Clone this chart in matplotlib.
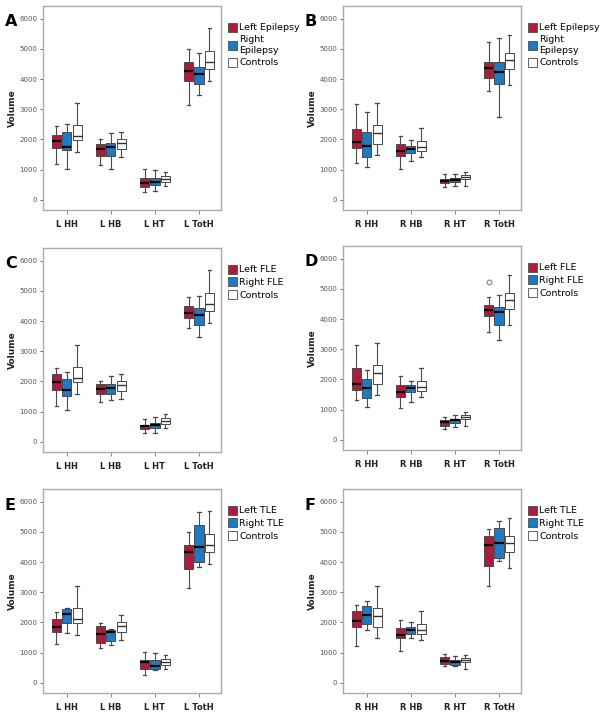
import matplotlib
matplotlib.use('Agg')
import matplotlib.pyplot as plt
from matplotlib.patches import Patch

# each row: [whisker low, Q1, median, Q3, whisker high] per region
l_regions = ['L HH', 'L HB', 'L HT', 'L TotH']
r_regions = ['R HH', 'R HB', 'R HT', 'R TotH']

l_controls = [[1580, 1980, 2100, 2480, 3190], [1410, 1670, 1890, 2020, 2240],
              [440, 600, 680, 780, 910], [3930, 4330, 4560, 4940, 5680]]
r_controls = [[1470, 1860, 2210, 2470, 3190], [1430, 1630, 1760, 1940, 2390],
              [460, 680, 740, 810, 920], [3810, 4330, 4640, 4860, 5450]]

A_left = [[1190, 1700, 1940, 2140, 2460], [1140, 1440, 1690, 1860, 2000],
          [260, 430, 570, 710, 1020], [3140, 3930, 4270, 4570, 5010]]
A_right = [[1030, 1660, 1760, 2230, 2520], [1030, 1450, 1760, 1880, 2200],
           [290, 490, 600, 710, 990], [3480, 3850, 4180, 4400, 4860]]

B_left = [[1210, 1710, 1910, 2360, 3170], [1030, 1450, 1610, 1860, 2110],
          [430, 560, 630, 680, 840], [3590, 4030, 4370, 4560, 5220]]
B_right = [[1090, 1430, 1780, 2240, 2910], [1280, 1560, 1690, 1780, 1990],
           [460, 580, 670, 730, 850], [2730, 3850, 4240, 4580, 5370]]

C_left = [[1200, 1720, 1970, 2250, 2450], [1310, 1570, 1740, 1900, 2000],
          [280, 430, 510, 570, 740], [3780, 4090, 4250, 4510, 4790]]
C_right = [[1040, 1500, 1730, 2090, 2310], [1390, 1590, 1790, 1920, 2190],
           [300, 450, 560, 620, 830], [3480, 3860, 4210, 4420, 4820]]

D_left = [[1310, 1640, 1860, 2380, 3150], [1040, 1430, 1590, 1820, 2120],
          [350, 460, 600, 660, 770], [3580, 4100, 4300, 4450, 4730]]
D_right = [[1090, 1380, 1720, 2020, 2310], [1260, 1570, 1710, 1810, 1930],
           [430, 550, 640, 700, 820], [3300, 3790, 4230, 4410, 4810]]
D_left_outlier = 5220  # R TotH, Left FLE

E_left = [[1280, 1670, 1860, 2110, 2330], [1140, 1320, 1610, 1890, 1970],
          [240, 450, 700, 760, 1020], [3140, 3760, 4330, 4570, 4990]]
E_right = [[1660, 1970, 2290, 2450, 2470], [1260, 1390, 1670, 1760, 1790],
           [410, 460, 570, 760, 980], [3820, 4000, 4500, 5240, 5670]]

F_left = [[1210, 1860, 2040, 2370, 2580], [1050, 1470, 1570, 1800, 2080],
          [540, 630, 710, 850, 960], [3190, 3880, 4550, 4850, 5100]]
F_right = [[1750, 1930, 2230, 2530, 2710], [1490, 1600, 1750, 1850, 2020],
           [550, 580, 680, 760, 880], [4040, 4150, 4630, 5140, 5360]]

red = '#AD1B3D'
blue = '#1F7AC6'
edge = '#4a4a4a'

W, H = 604, 714
fig = plt.figure(figsize=(W / 100, H / 100), dpi=100)

def stats(rows, fliers=None):
    out = []
    for i, r in enumerate(rows):
        d = dict(whislo=r[0], q1=r[1], med=r[2], q3=r[3], whishi=r[4], fliers=[])
        if fliers and i in fliers:
            d['fliers'] = [fliers[i]]
        out.append(d)
    return out

def panel(x0, y0, letter, regions, left, right, ctrl, labels, out=None):
    ax = fig.add_axes([x0 / W, 1 - (y0 + 204) / H, 178 / W, 204 / H])
    groups = [(left, red, 'black', 1.6, out), (right, blue, 'black', 1.6, None),
              (ctrl, 'white', '#333333', 1.0, None)]
    for k, (rows, fc, mc, mw, fl) in enumerate(groups):
        pos = [i + 1 + (k - 1) * 0.235 for i in range(len(rows))]
        ax.bxp(stats(rows, fl), positions=pos, widths=0.21, patch_artist=True,
               showfliers=True, manage_ticks=False,
               boxprops=dict(facecolor=fc, edgecolor=edge, linewidth=0.7),
               whiskerprops=dict(color=edge, linewidth=0.8),
               capprops=dict(color=edge, linewidth=0.9),
               medianprops=dict(color=mc, linewidth=mw),
               flierprops=dict(marker='o', markersize=3.5, markerfacecolor='none',
                               markeredgecolor='#777777', markeredgewidth=0.7),
               capwidths=0.08)
    ax.set_xlim(0.46, 4.5)
    ax.set_ylim(-340, 6420)
    ax.set_xticks(range(1, 5))
    ax.set_xticklabels(regions, fontsize=6, fontweight='bold', color='#222222')
    ax.set_yticks(range(0, 6001, 1000))
    ax.tick_params(axis='y', labelsize=5, colors='#555555', length=2.5, width=0.6, pad=1.5)
    ax.tick_params(axis='x', length=3, width=0.6, color='#777777', pad=4)
    for s in ax.spines.values():
        s.set_color('#aaaaaa')
        s.set_linewidth(1.0)
    ax.set_ylabel('Volume', fontsize=6.5, fontweight='bold', color='#222222', labelpad=2)
    fig.text((x0 - 38) / W, 1 - (y0 + 16) / H, letter, fontsize=11.5,
             fontweight='bold', va='center', ha='left')
    handles = [Patch(facecolor=red, edgecolor=edge, linewidth=0.6),
               Patch(facecolor=blue, edgecolor=edge, linewidth=0.6),
               Patch(facecolor='white', edgecolor=edge, linewidth=0.6)]
    ax.legend(handles, labels, loc='upper left', frameon=False,
              bbox_to_anchor=((x0 + 180) / W, 1 - (y0 + 12) / H),
              bbox_transform=fig.transFigure, fontsize=6.8, handlelength=1.0,
              handleheight=1.1, handletextpad=0.2, labelspacing=0.3, borderpad=0)
    return ax

epi = ['Left Epilepsy', 'Right\nEpilepsy', 'Controls']
fle = ['Left FLE', 'Right FLE', 'Controls']
tle = ['Left TLE', 'Right TLE', 'Controls']

panel(43, 6, 'A', l_regions, A_left, A_right, l_controls, epi)
panel(343, 6, 'B', r_regions, B_left, B_right, r_controls, epi)
panel(43, 248, 'C', l_regions, C_left, C_right, l_controls, fle)
panel(343, 246, 'D', r_regions, D_left, D_right, r_controls, fle, out={3: D_left_outlier})
panel(43, 489, 'E', l_regions, E_left, E_right, l_controls, tle)
panel(343, 489, 'F', r_regions, F_left, F_right, r_controls, tle)

fig.savefig('out.png', dpi=100)
